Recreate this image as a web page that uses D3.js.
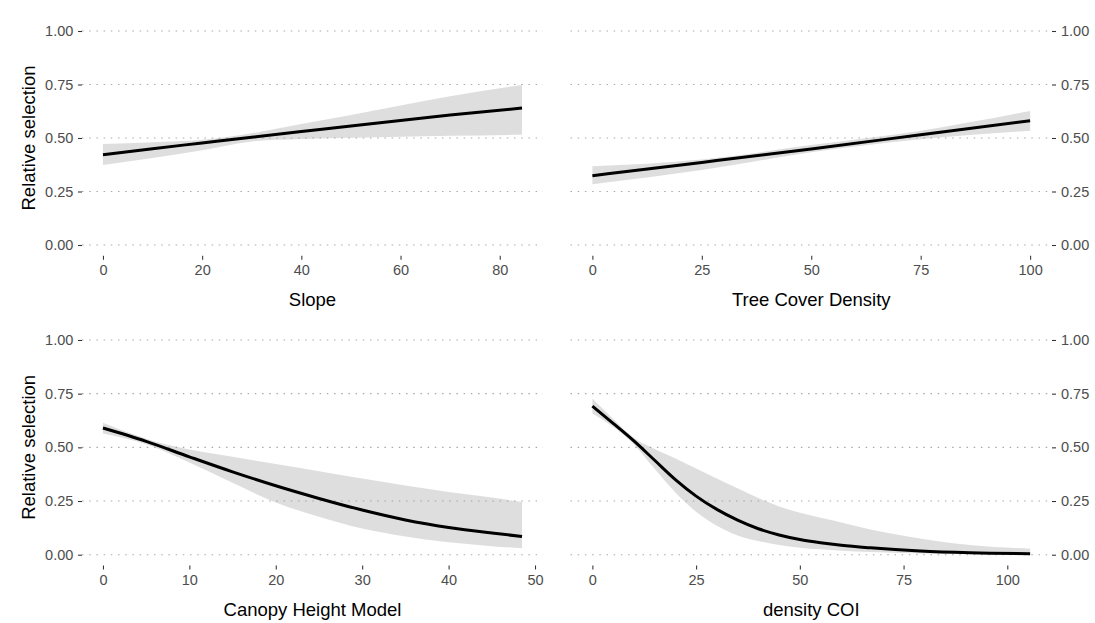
<!DOCTYPE html>
<html>
<head>
<meta charset="utf-8">
<script src="https://cdn.jsdelivr.net/npm/d3@7"></script>
<style>
  html, body { margin: 0; padding: 0; background: #ffffff; }
  svg { display: block; }
</style>
</head>
<body>
<svg id="chart" width="1095" height="623"></svg>
<script>
// Fitted relative selection curves with confidence ribbons, one per covariate.

const yTicks = [0, 0.25, 0.5, 0.75, 1];

// Slope
const slopeX    = [0, 10, 20, 30, 40, 50, 60, 70, 84.5];
const slopeFit  = [0.422, 0.450, 0.477, 0.504, 0.530, 0.556, 0.582, 0.607, 0.640];
const slopeLo   = [0.374, 0.407, 0.443, 0.484, 0.495, 0.501, 0.506, 0.510, 0.515];
const slopeHi   = [0.472, 0.480, 0.492, 0.522, 0.565, 0.608, 0.652, 0.695, 0.748];
const slopeTicks = [0, 20, 40, 60, 80];

// Tree Cover Density
const treeX    = [0, 25, 50, 75, 100];
const treeFit  = [0.324, 0.386, 0.449, 0.515, 0.581];
const treeLo   = [0.284, 0.350, 0.433, 0.494, 0.534];
const treeHi   = [0.368, 0.400, 0.467, 0.534, 0.626];
const treeTicks = [0, 25, 50, 75, 100];

// Canopy Height Model
const canopyX   = [0, 5, 10, 15, 20, 25, 30, 35, 40, 45, 48.5];
const canopyFit = [0.590, 0.528, 0.456, 0.386, 0.321, 0.262, 0.208, 0.162, 0.127, 0.101, 0.085];
const canopyLo  = [0.565, 0.515, 0.430, 0.335, 0.243, 0.177, 0.122, 0.085, 0.058, 0.040, 0.030];
const canopyHi  = [0.614, 0.540, 0.490, 0.456, 0.422, 0.389, 0.355, 0.322, 0.292, 0.266, 0.245];
const canopyTicks = [0, 10, 20, 30, 40, 50];

// density COI
const coiX   = [0, 5, 10, 15, 20, 25, 30, 35, 40, 45, 50, 55, 60, 67, 79, 91, 105.5];
const coiFit = [0.692, 0.612, 0.530, 0.440, 0.350, 0.273, 0.211, 0.161, 0.121, 0.092, 0.071, 0.056, 0.044, 0.032, 0.017, 0.009, 0.005];
const coiLo  = [0.658, 0.596, 0.515, 0.400, 0.290, 0.200, 0.135, 0.090, 0.064, 0.045, 0.033, 0.025, 0.019, 0.013, 0.006, 0.003, 0.001];
const coiHi  = [0.727, 0.632, 0.545, 0.492, 0.448, 0.402, 0.355, 0.309, 0.264, 0.225, 0.195, 0.172, 0.150, 0.118, 0.076, 0.045, 0.028];
const coiTicks = [0, 25, 50, 75, 100];

const yTitle = "Relative selection";

// Layout of the 2x2 grid of panels
const FONT = "'Liberation Sans', Arial, Helvetica, sans-serif";
const colL = { l: 82, r: 543 };
const colR = { l: 570.5, r: 1052 };
const rowT = { t: 20.3, b: 255.7 };
const rowB = { t: 329.25, b: 565.45 };

const panels = [
  { col: colL, row: rowT, xs: slopeX,  fit: slopeFit,  lo: slopeLo,  hi: slopeHi,  ticks: slopeTicks,  title: "Slope",               side: "left"  },
  { col: colR, row: rowT, xs: treeX,   fit: treeFit,   lo: treeLo,   hi: treeHi,   ticks: treeTicks,   title: "Tree Cover Density",  side: "right" },
  { col: colL, row: rowB, xs: canopyX, fit: canopyFit, lo: canopyLo, hi: canopyHi, ticks: canopyTicks, title: "Canopy Height Model", side: "left"  },
  { col: colR, row: rowB, xs: coiX,    fit: coiFit,    lo: coiLo,    hi: coiHi,    ticks: coiTicks,    title: "density COI",         side: "right" }
];

const svg = d3.select("#chart");
svg.append("rect").attr("width", 1095).attr("height", 623).attr("fill", "#ffffff");

function styleAxis(g) {
  g.select(".domain").remove();
  g.selectAll(".tick line").attr("stroke", "#333333").attr("stroke-width", 1.07);
  g.selectAll(".tick text")
    .attr("fill", "#4d4d4d")
    .style("font-family", FONT)
    .style("font-size", "14.5px");
}

panels.forEach(p => {
  const { l, r } = p.col;
  const { t, b } = p.row;
  const xmin = d3.min(p.xs), xmax = d3.max(p.xs);
  const pad = 0.05 * (xmax - xmin);
  const x = d3.scaleLinear().domain([xmin - pad, xmax + pad]).range([l, r]);
  const y = d3.scaleLinear().domain([-0.05, 1.05]).range([b, t]);

  const g = svg.append("g");

  // dotted horizontal grid
  g.append("g").selectAll("line")
    .data(yTicks)
    .join("line")
    .attr("x1", l).attr("x2", r)
    .attr("y1", d => y(d)).attr("y2", d => y(d))
    .attr("stroke", "#a9a9a9")
    .attr("stroke-width", 1.1)
    .attr("stroke-dasharray", "1.5 5.7");

  const pts = p.xs.map((v, i) => ({ x: v, fit: p.fit[i], lo: p.lo[i], hi: p.hi[i] }));

  // confidence ribbon
  g.append("path")
    .datum(pts)
    .attr("d", d3.area()
      .x(d => x(d.x))
      .y0(d => y(d.lo))
      .y1(d => y(d.hi))
      .curve(d3.curveMonotoneX))
    .attr("fill", "#999999")
    .attr("fill-opacity", 0.32);

  // fitted curve
  g.append("path")
    .datum(pts)
    .attr("d", d3.line()
      .x(d => x(d.x))
      .y(d => y(d.fit))
      .curve(d3.curveMonotoneX))
    .attr("fill", "none")
    .attr("stroke", "#000000")
    .attr("stroke-width", 3);

  // x axis
  const gx = g.append("g")
    .attr("transform", `translate(0,${b})`)
    .call(d3.axisBottom(x).tickValues(p.ticks).tickSize(4).tickPadding(5).tickFormat(d3.format("d")));
  styleAxis(gx);

  // y axis on the outer side
  if (p.side === "left") {
    const gy = g.append("g")
      .attr("transform", `translate(${l},0)`)
      .call(d3.axisLeft(y).tickValues(yTicks).tickSize(4).tickPadding(4.7).tickFormat(d3.format(".2f")));
    styleAxis(gy);
    g.append("text")
      .attr("transform", `translate(35.2,${(t + b) / 2}) rotate(-90)`)
      .attr("text-anchor", "middle")
      .attr("fill", "#000000")
      .style("font-family", FONT)
      .style("font-size", "18.5px")
      .text(yTitle);
  } else {
    const gy = g.append("g")
      .attr("transform", `translate(${r},0)`)
      .call(d3.axisRight(y).tickValues(yTicks).tickSize(4).tickPadding(5).tickFormat(d3.format(".2f")));
    styleAxis(gy);
  }

  // x axis title
  g.append("text")
    .attr("x", (l + r) / 2)
    .attr("y", b + 50.6)
    .attr("text-anchor", "middle")
    .attr("fill", "#000000")
    .style("font-family", FONT)
    .style("font-size", "18.5px")
    .text(p.title);
});
</script>
</body>
</html>
